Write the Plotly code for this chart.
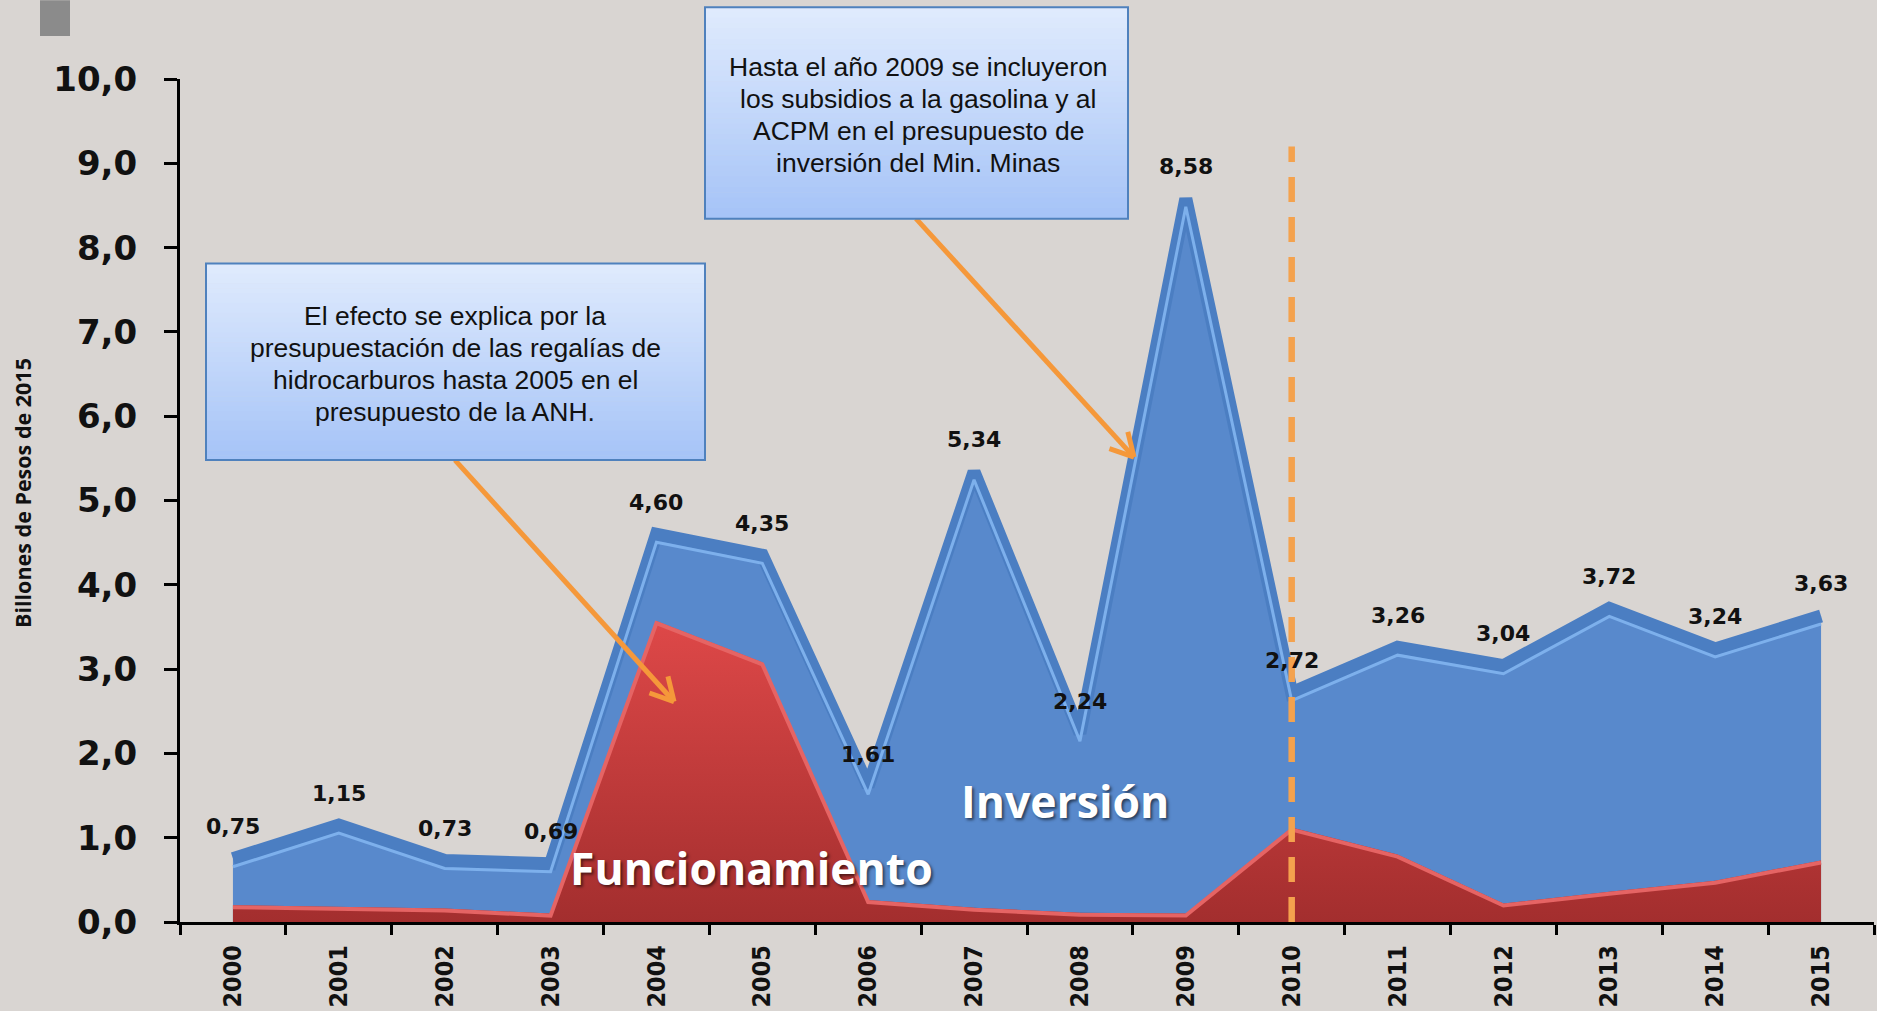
import math
import plotly.graph_objects as go

# Presupuesto del sector minero-energético (billones de pesos de 2015)
years = [str(y) for y in range(2000, 2016)]
total = [0.75, 1.15, 0.73, 0.69, 4.60, 4.35, 1.61, 5.34, 2.24, 8.58,
         2.72, 3.26, 3.04, 3.72, 3.24, 3.63]
funcionamiento = [0.20, 0.18, 0.16, 0.10, 3.57, 3.08, 0.26, 0.17, 0.11, 0.10,
                  1.12, 0.80, 0.22, 0.36, 0.49, 0.73]
y_ticks = [0, 1, 2, 3, 4, 5, 6, 7, 8, 9, 10]
break_year = "2010"
break_top = 9.2

note_anh = ["El efecto se explica por la",
            "presupuestación de las regalías de",
            "hidrocarburos hasta 2005 en el",
            "presupuesto de la ANH."]
note_minas = ["Hasta el año 2009 se incluyeron",
              "los subsidios a la gasolina y al",
              "ACPM en el presupuesto de",
              "inversión del Min. Minas"]

W, H = 1877, 1011
L, R, T, B = 180, 3, 79, 87
PW, PH = W - L - R, H - T - B
PX_PER_UNIT = PH / 10.0


def px(x):
    return (x - L) / PW


def py(y):
    return (T + PH - y) / PH


BLUE = "#5889cc"
BLUE_EDGE = "#4b7ec2"
BLUE_LIGHT = "#7db0ec"
RED_LIGHT = "#e56464"
ORANGE = "#f5983a"
BG = "#d9d5d2"

fig = go.Figure()

# Inversión (área total)
fig.add_trace(go.Scatter(x=years, y=total, mode="lines", fill="tozeroy",
                         fillcolor=BLUE, line=dict(width=0, color=BLUE),
                         hoverinfo="skip", showlegend=False))
fig.add_trace(go.Scatter(x=years, y=total, mode="lines",
                         line=dict(width=13, color=BLUE_EDGE),
                         hoverinfo="skip", showlegend=False))
# Funcionamiento
fig.add_trace(go.Scatter(x=years, y=funcionamiento, mode="lines", fill="tozeroy",
                         fillgradient=dict(type="vertical",
                                           colorscale=[[0, "#a32e2e"], [1, "#de4848"]]),
                         line=dict(width=0, color="#c03a3a"),
                         hoverinfo="skip", showlegend=False))

# bevel highlights drawn on axes shifted a few pixels down
shift_blue = 8 / PX_PER_UNIT
shift_red = 2 / PX_PER_UNIT
fig.add_trace(go.Scatter(x=years, y=total, mode="lines", yaxis="y2",
                         line=dict(width=3, color=BLUE_LIGHT),
                         hoverinfo="skip", showlegend=False))
fig.add_trace(go.Scatter(x=years, y=funcionamiento, mode="lines", yaxis="y3",
                         line=dict(width=4, color=RED_LIGHT),
                         hoverinfo="skip", showlegend=False))

shapes = []
# top-left marker
shapes.append(dict(type="rect", xref="paper", yref="paper",
                   x0=px(40), x1=px(70), y0=py(0), y1=py(36),
                   fillcolor="#8b8b8b", line=dict(width=0)))
# vertical break line
bx = years.index(break_year)
shapes.append(dict(type="line", xref="x", yref="y", x0=bx, x1=bx,
                   y0=0, y1=break_top, layer="above",
                   line=dict(color="#f4a24e", width=6.5, dash="25px,15px")))


def note_box(x0, y0, x1, y1, n=40):
    top = (0xe0, 0xeb, 0xfd)
    bot = (0xa5, 0xc3, 0xf7)
    for i in range(n):
        t = (i + 0.5) / n
        c = tuple(round(top[k] + (bot[k] - top[k]) * t) for k in range(3))
        ya = y0 + (y1 - y0) * i / n
        yb = y0 + (y1 - y0) * (i + 1) / n + 0.6
        shapes.append(dict(type="rect", xref="paper", yref="paper", layer="above",
                           x0=px(x0), x1=px(x1), y0=py(ya), y1=py(min(yb, y1)),
                           fillcolor="rgb(%d,%d,%d)" % c, line=dict(width=0)))
    shapes.append(dict(type="rect", xref="paper", yref="paper", layer="above",
                       x0=px(x0), x1=px(x1), y0=py(y0), y1=py(y1),
                       fillcolor="rgba(0,0,0,0)", line=dict(color="#4f81bd", width=2)))


def arrow(x0, y0, x1, y1, head=26, spread=0.5):
    shapes.append(dict(type="line", xref="paper", yref="paper", layer="above",
                       x0=px(x0), y0=py(y0), x1=px(x1), y1=py(y1),
                       line=dict(color=ORANGE, width=5)))
    ang = math.atan2(y1 - y0, x1 - x0)
    for s in (-spread, spread):
        a = ang + math.pi + s
        shapes.append(dict(type="line", xref="paper", yref="paper", layer="above",
                           x0=px(x1), y0=py(y1),
                           x1=px(x1 + head * math.cos(a)), y1=py(y1 + head * math.sin(a)),
                           line=dict(color=ORANGE, width=5)))


arrow(455, 461, 674, 703)
arrow(916, 219, 1134, 458)
note_box(206, 264, 705, 461)
note_box(705, 7, 1128, 219)

annotations = []
box_font = dict(family="Liberation Sans, Arial", size=26.5, color="#111111")


def note_text(lines, cx, first_y, step=32):
    for k, line in enumerate(lines):
        annotations.append(dict(xref="paper", yref="paper", x=px(cx),
                                y=py(first_y + k * step),
                                xanchor="center", yanchor="middle",
                                text=line, showarrow=False, font=box_font))


note_text(note_anh, 455, 317)
note_text(note_minas, 918, 67)

# value labels above the total
for i, v in enumerate(total):
    annotations.append(dict(x=i, y=v, xref="x", yref="y", yshift=32,
                            xanchor="center", yanchor="middle",
                            text=f"{v:.2f}".replace(".", ","), showarrow=False,
                            font=dict(family="DejaVu Sans", size=22, weight="bold",
                                      color="#111111")))

series_font = dict(family="Open Sans", size=44.5, weight="bold", color="white",
                   shadow="2px 2px 3px rgba(0,0,0,0.55)")
annotations.append(dict(xref="paper", yref="paper", x=px(751), y=py(869),
                        xanchor="center", yanchor="middle",
                        text="Funcionamiento", showarrow=False, font=series_font))
annotations.append(dict(xref="paper", yref="paper", x=px(1065), y=py(802),
                        xanchor="center", yanchor="middle",
                        text="Inversión", showarrow=False, font=series_font))

# axis title
annotations.append(dict(xref="paper", yref="paper", x=px(22), y=py(494),
                        xanchor="center", yanchor="middle",
                        text="Billones de Pesos de 2015", textangle=-90,
                        showarrow=False,
                        font=dict(family="Open Sans", size=21.5, weight="bold",
                                  color="#111111")))

fig.update_layout(
    width=W, height=H,
    margin=dict(l=L, r=R, t=T, b=B, pad=0),
    paper_bgcolor=BG, plot_bgcolor=BG,
    separators=",.",
    showlegend=False,
    xaxis=dict(type="category", categoryorder="array", categoryarray=years,
               range=[-0.5, len(years) - 0.5], showgrid=False, zeroline=False,
               showline=True, linecolor="black", linewidth=3,
               ticks="outside", ticklen=10, tickwidth=3, tickcolor="black",
               tickson="boundaries", tickangle=-90, ticklabelstandoff=10,
               tickfont=dict(family="DejaVu Sans Condensed, DejaVu Sans", size=25,
                             weight="bold", color="#111111")),
    yaxis=dict(range=[0, 10], tickvals=y_ticks, tickformat=".1f",
               showgrid=False, zeroline=False, showline=True, linecolor="black",
               linewidth=3, ticks="outside", ticklen=13, tickwidth=3,
               tickcolor="black", ticklabelstandoff=20,
               tickfont=dict(family="DejaVu Sans", size=34, weight="bold",
                             color="#111111")),
    yaxis2=dict(overlaying="y", range=[shift_blue, 10 + shift_blue], visible=False),
    yaxis3=dict(overlaying="y", range=[shift_red, 10 + shift_red], visible=False),
    shapes=shapes,
    annotations=annotations,
)

fig.write_html("out.html")
